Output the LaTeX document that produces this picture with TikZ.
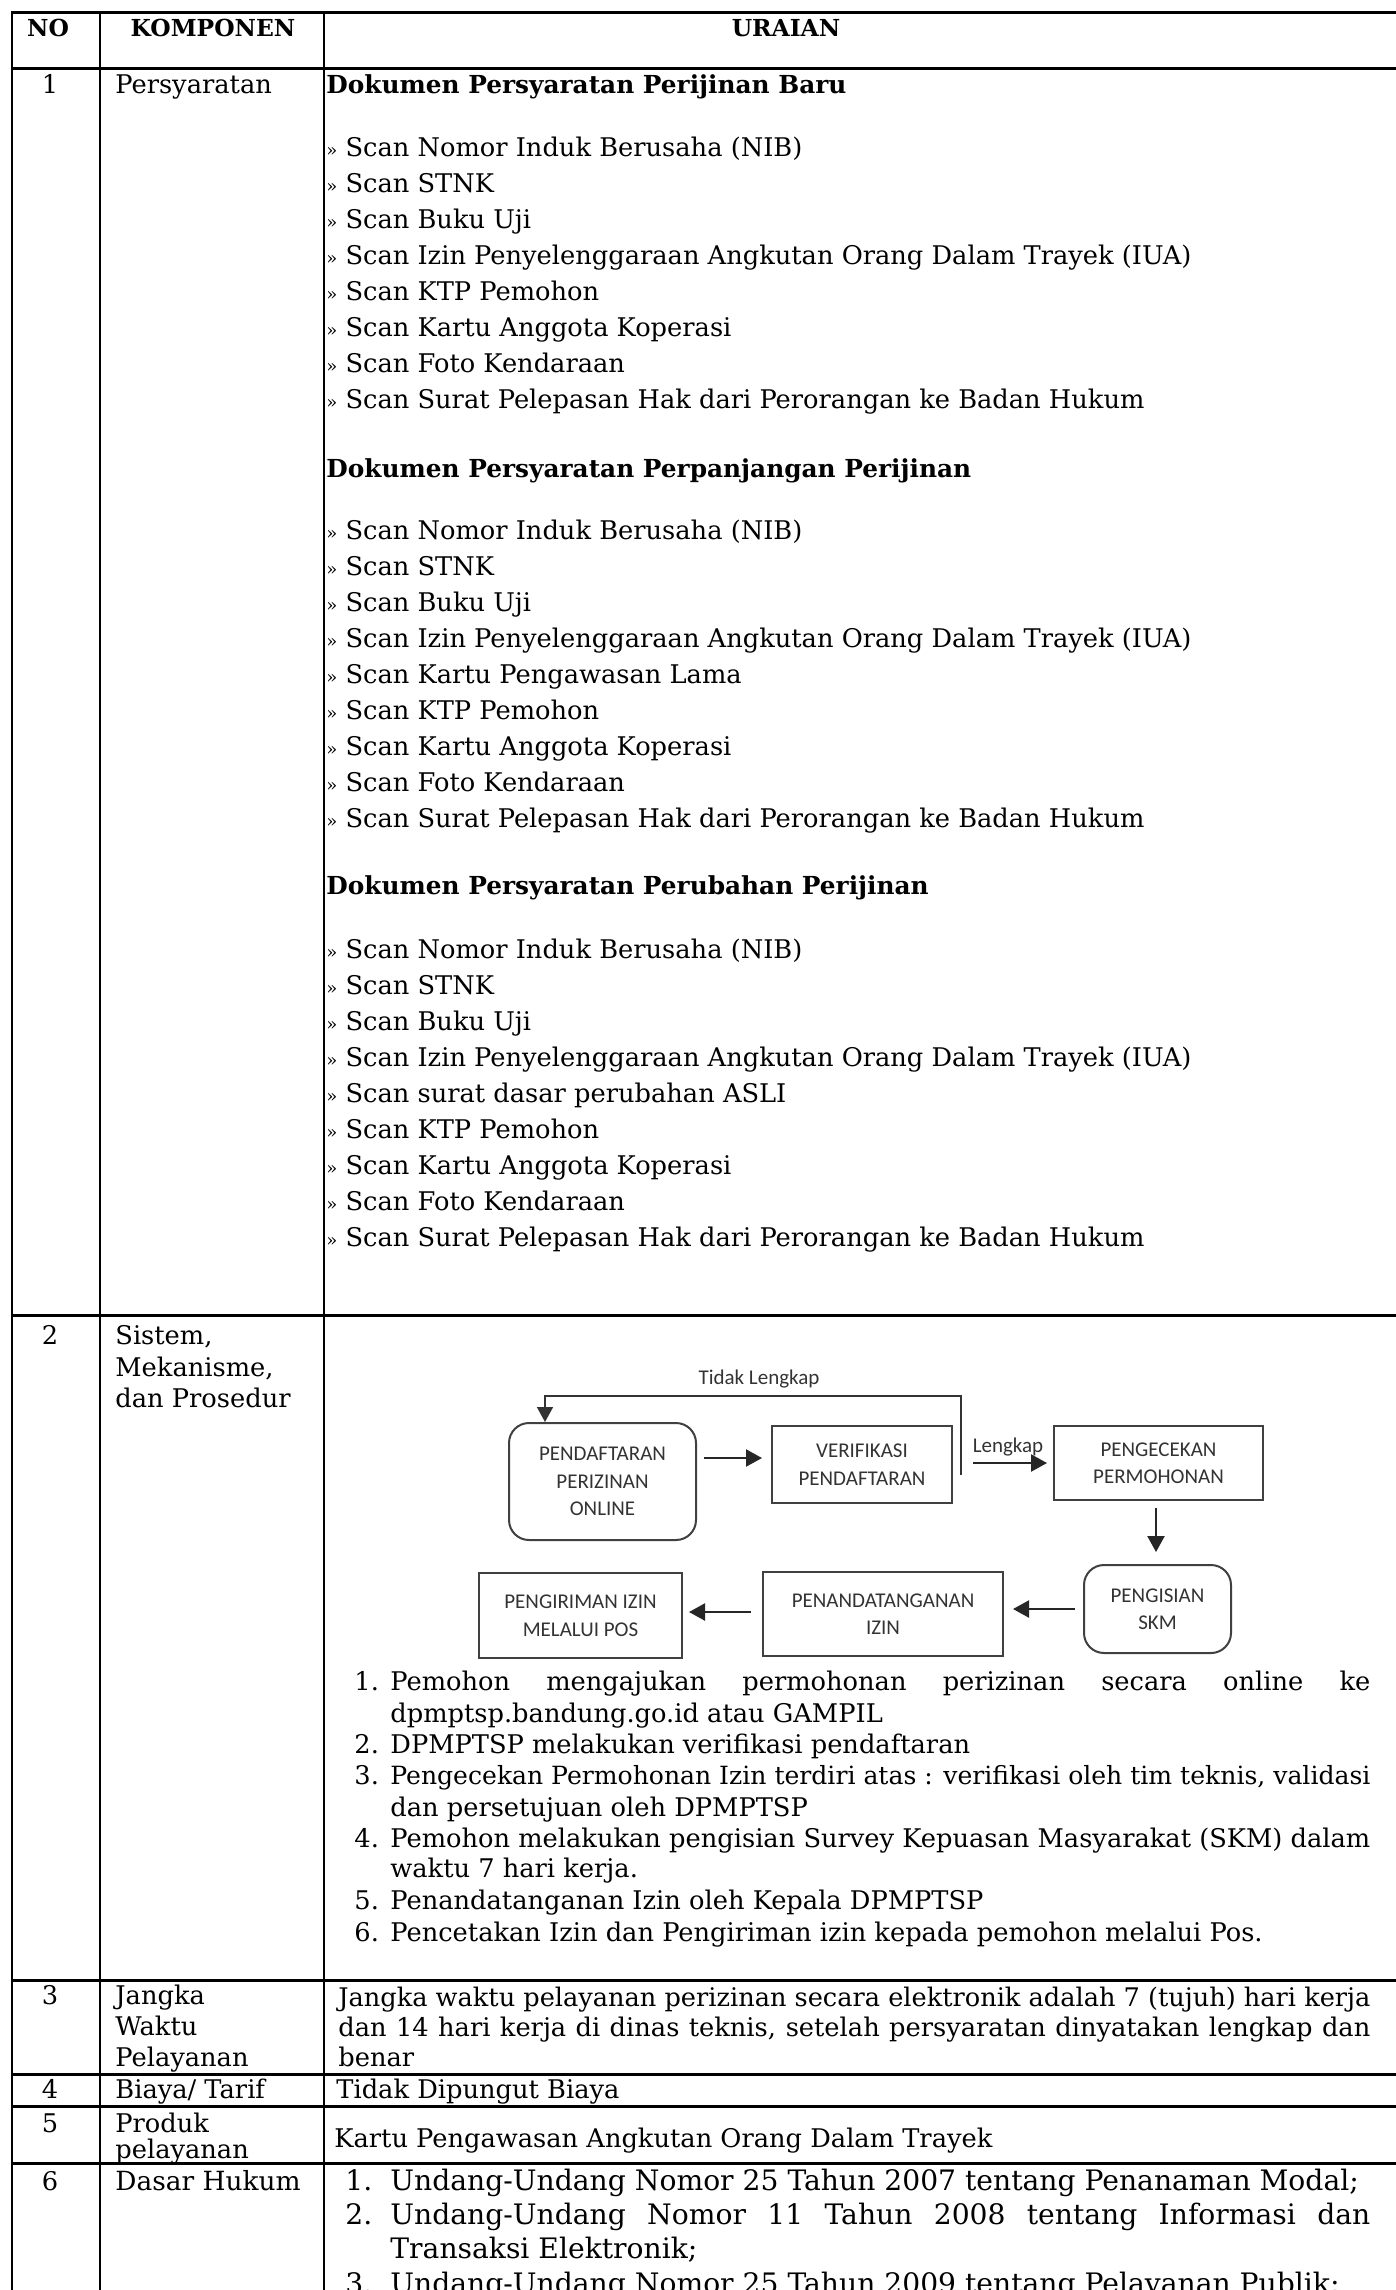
\documentclass[tikz,border=0pt]{standalone}
\usepackage{fontspec}
\usepackage{graphicx}
\setmainfont{DejaVu Serif}
\newfontfamily\flowfont{Carlito}
\usetikzlibrary{arrows.meta,calc}
\newcommand\raq{\scalebox{0.7}{»}}
\newcommand\jline[2]{\setbox0=\hbox{#2}\ifdim\wd0>#1\relax\resizebox{#1}{!}{\box0}\else\makebox[#1][s]{#2}\fi}
\begin{document}
\begin{tikzpicture}[x=0.5pt,y=-0.5pt,
  hl/.style={line width=1.5pt},
  vl/.style={line width=1pt},
  tx/.style={anchor=base west,inner sep=0pt,font=\fontsize{12.85}{15}\selectfont},
  tl/.style={anchor=base west,inner sep=0pt,font=\fontsize{14.1}{16}\selectfont},
  tc/.style={anchor=base,inner sep=0pt,font=\fontsize{12.85}{15}\selectfont},
  hd/.style={anchor=base,inner sep=0pt,font=\bfseries\fontsize{11.7}{14}\selectfont},
  bh/.style={anchor=base west,inner sep=0pt,font=\bfseries\fontsize{12.4}{15}\selectfont},
  fb/.style={draw=black!75,line width=1pt,text=black!80,align=center,inner sep=0pt,font=\flowfont\fontsize{10.5}{13.75}\selectfont},
  rfb/.style={fb,rounded corners=10pt},
  lab/.style={inner sep=0pt,text=black!80,font=\flowfont\fontsize{10.5}{12}\selectfont},
  arr/.style={-{Triangle[length=8pt,width=8.5pt]},line width=1.1pt,draw=black!85},
  fbk/.style={-{Triangle[length=7.5pt,width=8pt]},line width=0.8pt,draw=black!80}]
\useasboundingbox (0,0) rectangle (1396,2290);
\fill[white] (0,0) rectangle (1396,2290);
\begin{scope}
\clip (0,0) rectangle (1396,2290);
% table rules
\foreach \y in {13,69,1315,1980,2074,2106,2163} \draw[hl] (11.2,\y) -- (1400,\y);
\foreach \x in {11.7,100,324} \draw[vl] (\x,12.5) -- (\x,2295);
% header
\node[hd] (hno) at (48,37) {NO};
\node[hd] (hkomp) at (213,37) {KOMPONEN};
\node[hd] (hur) at (786,37) {URAIAN};
% row 1
\node[tc] (n1) at (50,94) {1};
\node[tx] (k1) at (115,94) {Persyaratan};
\node[bh] (ha) at (326,94) {Dokumen Persyaratan Perijinan Baru};
\foreach \t [count=\k from 0] in {Nomor Induk Berusaha (NIB),STNK,Buku Uji,%
Izin Penyelenggaraan Angkutan Orang Dalam Trayek (IUA),KTP Pemohon,%
Kartu Anggota Koperasi,Foto Kendaraan,Surat Pelepasan Hak dari Perorangan ke Badan Hukum}
  \node[tx] (a\k) at (326,{156.5+36*\k}) {\raq\ Scan \t};
\node[bh] (hb) at (326,477) {Dokumen Persyaratan Perpanjangan Perijinan};
\foreach \t [count=\k from 0] in {Nomor Induk Berusaha (NIB),STNK,Buku Uji,%
Izin Penyelenggaraan Angkutan Orang Dalam Trayek (IUA),Kartu Pengawasan Lama,KTP Pemohon,%
Kartu Anggota Koperasi,Foto Kendaraan,Surat Pelepasan Hak dari Perorangan ke Badan Hukum}
  \node[tx] (b\k) at (326,{539+36*\k}) {\raq\ Scan \t};
\node[bh] (hc) at (326,894) {Dokumen Persyaratan Perubahan Perijinan};
\foreach \t [count=\k from 0] in {Nomor Induk Berusaha (NIB),STNK,Buku Uji,%
Izin Penyelenggaraan Angkutan Orang Dalam Trayek (IUA),surat dasar perubahan ASLI,KTP Pemohon,%
Kartu Anggota Koperasi,Foto Kendaraan,Surat Pelepasan Hak dari Perorangan ke Badan Hukum}
  \node[tx] (c\k) at (326,{958+36*\k}) {\raq\ Scan \t};
% row 2
\node[tc] (n2) at (50,1344) {2};
\node[tx] (k2a) at (115,1344) {Sistem,};
\node[tx] (k2b) at (115,1376) {Mekanisme,};
\node[tx] (k2c) at (115,1407) {dan Prosedur};
% flowchart
\node[rfb,minimum width=93.5pt,minimum height=58.5pt] (pend) at (602.5,1481.5) {PENDAFTARAN\\PERIZINAN\\ONLINE};
\node[fb,minimum width=90pt,minimum height=38.5pt] (verif) at (862,1464.5) {VERIFIKASI\\PENDAFTARAN};
\node[fb,minimum width=104.5pt,minimum height=37pt] (cek) at (1158.5,1463) {PENGECEKAN\\PERMOHONAN};
\node[rfb,minimum width=73.5pt,minimum height=44pt] (skm) at (1157.5,1609) {PENGISIAN\\SKM};
\node[fb,minimum width=120pt,minimum height=42pt] (ttd) at (883,1614) {PENANDATANGANAN\\IZIN};
\node[fb,minimum width=101.5pt,minimum height=42.5pt] (kirim) at (580.5,1615.5) {PENGIRIMAN IZIN\\MELALUI POS};
\node[lab] (tl) at (759,1379) {Tidak Lengkap};
\node[lab] (lk) at (1008,1447) {Lengkap};
\draw[arr] ($(pend.east)+(7,-23.5)$) -- ($(verif.west)+(-9,-6.5)$);
\draw[arr] ($(verif.east)+(20,-1.5)$) -- ($(cek.west)+(-6,0)$);
\draw[arr] ($(cek.south)+(-2.5,7)$) -- ($(skm.north)+(-1.5,-12)$);
\draw[arr] ($(skm.west)+(-8,0)$) -- ($(ttd.east)+(9,-5)$);
\draw[arr] ($(ttd.west)+(-11,-2)$) -- ($(kirim.east)+(6,-3.5)$);
\coordinate (fbs) at ($(verif.east)+(8,10.5)$);
\draw[fbk] (fbs) -- ++(0,-79) -| ($(pend.north)+(-57.5,0)$);
% row 2 list
\node[tx] (l1n) at (354,1690) {1.};
\node[tx] (l1a) at (390,1690) {\jline{490pt}{Pemohon mengajukan permohonan perizinan secara online ke}};
\node[tx] (l1b) at (390,1722) {dpmptsp.bandung.go.id atau GAMPIL};
\node[tx] (l2n) at (354,1753) {2.};
\node[tx] (l2a) at (390,1753) {DPMPTSP melakukan verifikasi pendaftaran};
\node[tx] (l3n) at (354,1784) {3.};
\node[tx] (l3a) at (390,1784) {\jline{490pt}{Pengecekan Permohonan Izin terdiri atas : verifikasi oleh tim teknis, validasi}};
\node[tx] (l3b) at (390,1816) {dan persetujuan oleh DPMPTSP};
\node[tx] (l4n) at (354,1847) {4.};
\node[tx] (l4a) at (390,1847) {\jline{490pt}{Pemohon melakukan pengisian Survey Kepuasan Masyarakat (SKM) dalam}};
\node[tx] (l4b) at (390,1877) {waktu 7 hari kerja.};
\node[tx] (l5n) at (354,1909) {5.};
\node[tx] (l5a) at (390,1909) {Penandatanganan Izin oleh Kepala DPMPTSP};
\node[tx] (l6n) at (354,1941) {6.};
\node[tx] (l6a) at (390,1941) {Pencetakan Izin dan Pengiriman izin kepada pemohon melalui Pos.};
% row 3
\node[tc] (n3) at (50,2004) {3};
\node[tx] (k3a) at (115,2004) {Jangka};
\node[tx] (k3b) at (115,2035) {Waktu};
\node[tx] (k3c) at (115,2066) {Pelayanan};
\node[tx] (r3a) at (338,2006) {\jline{516pt}{Jangka waktu pelayanan perizinan secara elektronik adalah 7 (tujuh) hari kerja}};
\node[tx] (r3b) at (338,2036) {\jline{516pt}{dan 14 hari kerja di dinas teknis, setelah persyaratan dinyatakan lengkap dan}};
\node[tx] (r3c) at (338,2066) {benar};
% row 4
\node[tc] (n4) at (50,2098) {4};
\node[tx] (k4) at (115,2098) {Biaya/ Tarif};
\node[tx] (r4) at (336,2098) {Tidak Dipungut Biaya};
% row 5
\node[tc] (n5) at (50,2132) {5};
\node[tx] (k5a) at (115,2132) {Produk};
\node[tx] (k5b) at (115,2158) {pelayanan};
\node[tx] (r5) at (334,2147) {Kartu Pengawasan Angkutan Orang Dalam Trayek};
% row 6
\node[tc] (n6) at (50,2190) {6};
\node[tx,font=\fontsize{13.2}{15}\selectfont] (k6) at (115,2190) {Dasar Hukum};
\node[tl] (d1n) at (345,2190) {1.};
\node[tl] (d1a) at (390,2190) {Undang-Undang Nomor 25 Tahun 2007 tentang Penanaman Modal;};
\node[tl] (d2n) at (345,2224) {2.};
\node[tl] (d2a) at (390,2224) {\jline{490pt}{Undang-Undang Nomor 11 Tahun 2008 tentang Informasi dan}};
\node[tl] (d2b) at (390,2258) {Transaksi Elektronik;};
\node[tl] (d3n) at (345,2293) {3.};
\node[tl] (d3a) at (390,2293) {Undang-Undang Nomor 25 Tahun 2009 tentang Pelayanan Publik;};
\end{scope}
\end{tikzpicture}
\end{document}
